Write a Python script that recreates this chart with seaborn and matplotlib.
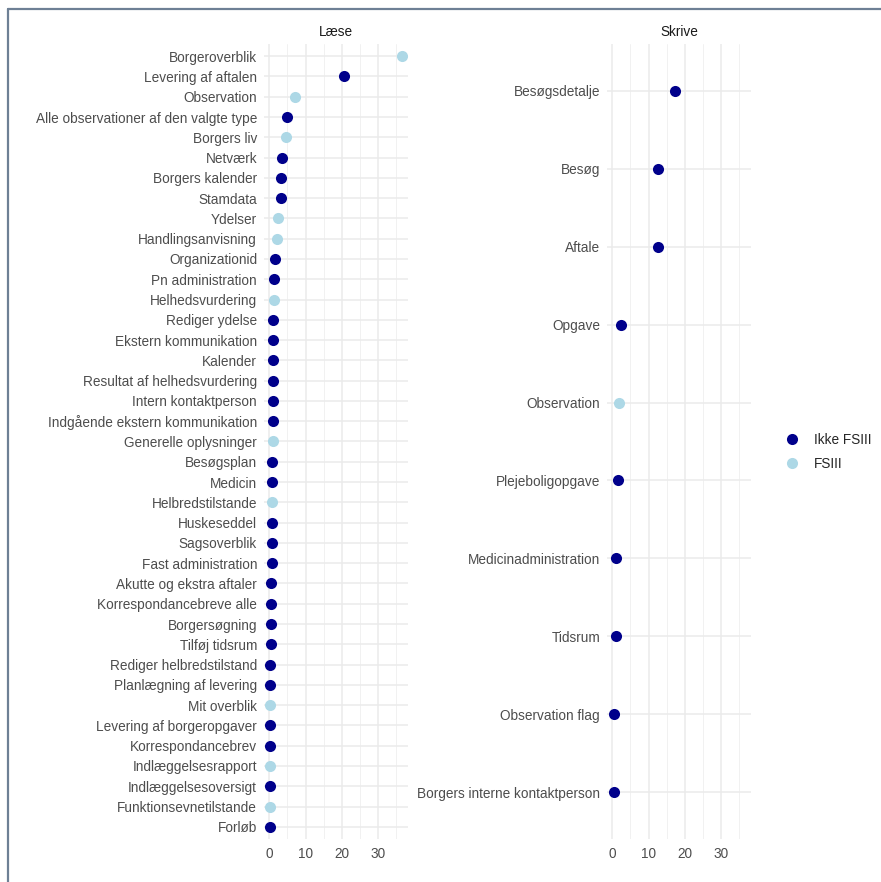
import seaborn as sns
import pandas as pd
import matplotlib.pyplot as plt
from matplotlib.lines import Line2D

sns.set_style("white")
plt.rcParams['font.family'] = ['Liberation Sans', 'DejaVu Sans']

# Læse (read) functions, top to bottom
laese_names = ['Borgeroverblik', 'Levering af aftalen', 'Observation',
               'Alle observationer af den valgte type', 'Borgers liv', 'Netværk',
               'Borgers kalender', 'Stamdata', 'Ydelser', 'Handlingsanvisning',
               'Organizationid', 'Pn administration', 'Helhedsvurdering',
               'Rediger ydelse', 'Ekstern kommunikation', 'Kalender',
               'Resultat af helhedsvurdering', 'Intern kontaktperson',
               'Indgående ekstern kommunikation', 'Generelle oplysninger',
               'Besøgsplan', 'Medicin', 'Helbredstilstande', 'Huskeseddel',
               'Sagsoverblik', 'Fast administration', 'Akutte og ekstra aftaler',
               'Korrespondancebreve alle', 'Borgersøgning', 'Tilføj tidsrum',
               'Rediger helbredstilstand', 'Planlægning af levering', 'Mit overblik',
               'Levering af borgeropgaver', 'Korrespondancebrev',
               'Indlæggelsesrapport', 'Indlæggelsesoversigt',
               'Funktionsevnetilstande', 'Forløb']
laese_values = [36.7, 20.8, 7.2, 5.0, 4.6, 3.6, 3.2, 3.2, 2.3, 2.1,
                1.5, 1.4, 1.4, 1.1, 1.1, 1.0, 0.9, 0.9, 0.9, 0.9,
                0.8, 0.8, 0.7, 0.7, 0.6, 0.6, 0.5, 0.5, 0.4, 0.4,
                0.3, 0.3, 0.3, 0.3, 0.3, 0.3, 0.3, 0.3, 0.2]
laese_group = ['FSIII', 'Ikke FSIII', 'FSIII', 'Ikke FSIII', 'FSIII', 'Ikke FSIII',
               'Ikke FSIII', 'Ikke FSIII', 'FSIII', 'FSIII',
               'Ikke FSIII', 'Ikke FSIII', 'FSIII', 'Ikke FSIII', 'Ikke FSIII',
               'Ikke FSIII', 'Ikke FSIII', 'Ikke FSIII', 'Ikke FSIII', 'FSIII',
               'Ikke FSIII', 'Ikke FSIII', 'FSIII', 'Ikke FSIII', 'Ikke FSIII',
               'Ikke FSIII', 'Ikke FSIII', 'Ikke FSIII', 'Ikke FSIII', 'Ikke FSIII',
               'Ikke FSIII', 'Ikke FSIII', 'FSIII', 'Ikke FSIII', 'Ikke FSIII',
               'FSIII', 'Ikke FSIII', 'FSIII', 'Ikke FSIII']

# Skrive (write) functions
skrive_names = ['Besøgsdetalje', 'Besøg', 'Aftale', 'Opgave', 'Observation',
                'Plejeboligopgave', 'Medicinadministration', 'Tidsrum',
                'Observation flag', 'Borgers interne kontaktperson']
skrive_values = [17.4, 12.5, 12.5, 2.5, 1.8, 1.6, 0.9, 0.9, 0.4, 0.4]
skrive_group = ['Ikke FSIII', 'Ikke FSIII', 'Ikke FSIII', 'Ikke FSIII', 'FSIII',
                'Ikke FSIII', 'Ikke FSIII', 'Ikke FSIII', 'Ikke FSIII', 'Ikke FSIII']

palette = {'Ikke FSIII': '#00008B', 'FSIII': '#ADD8E6'}

df_l = pd.DataFrame({'navn': laese_names, 'andel': laese_values, 'type': laese_group})
df_s = pd.DataFrame({'navn': skrive_names, 'andel': skrive_values, 'type': skrive_group})

fig = plt.figure(figsize=(8.81, 8.82), dpi=100)
ax1 = fig.add_axes([264 / 881, 1 - 839 / 882, 144 / 881, 795 / 882])
ax2 = fig.add_axes([607 / 881, 1 - 839 / 882, 144 / 881, 795 / 882])

for ax, df, title in [(ax1, df_l, 'Læse'), (ax2, df_s, 'Skrive')]:
    n = len(df)
    ax.set_axisbelow(True)
    sns.stripplot(data=df, x='andel', y='navn', hue='type', order=list(df.navn),
                  palette=palette, jitter=False, size=8, linewidth=0,
                  legend=False, ax=ax, zorder=3)
    ax.set_xlim(-1.5, 38.4)
    ax.set_ylim(n - 1 + 0.6, -0.6)
    ax.set_xticks([0, 10, 20, 30])
    ax.set_xticks([5, 15, 25, 35], minor=True)
    ax.grid(True, which='major', color='#EBEBEB', linewidth=1.1)
    ax.grid(True, which='minor', axis='x', color='#EFEFEF', linewidth=0.6)
    ax.tick_params(length=0, labelsize=9.8, labelcolor='#4D4D4D')
    ax.tick_params(axis='y', pad=5)
    ax.tick_params(axis='x', pad=6)
    ax.tick_params(which='minor', length=0)
    ax.set_xlabel('')
    ax.set_ylabel('')
    sns.despine(ax=ax, left=True, bottom=True)
    ax.set_title(title, fontsize=9.8, color='#1A1A1A', pad=6)

handles = [Line2D([], [], marker='o', linestyle='', markersize=8,
                  markerfacecolor=palette[k], markeredgewidth=0, label=k)
           for k in ['Ikke FSIII', 'FSIII']]
fig.legend(handles=handles, loc='center left', bbox_to_anchor=(766 / 881, 1 - 452 / 882),
           frameon=False, fontsize=9.8, handletextpad=0.6, labelspacing=0.75)

# screenshot frame
fig.add_artist(Line2D([8 / 881, 8 / 881], [0, 1 - 9 / 882], transform=fig.transFigure,
                      color='#6E8095', linewidth=1.6))
fig.add_artist(Line2D([8 / 881, 1], [1 - 9 / 882, 1 - 9 / 882], transform=fig.transFigure,
                      color='#6E8095', linewidth=1.6))

plt.savefig('out.png', dpi=100)
